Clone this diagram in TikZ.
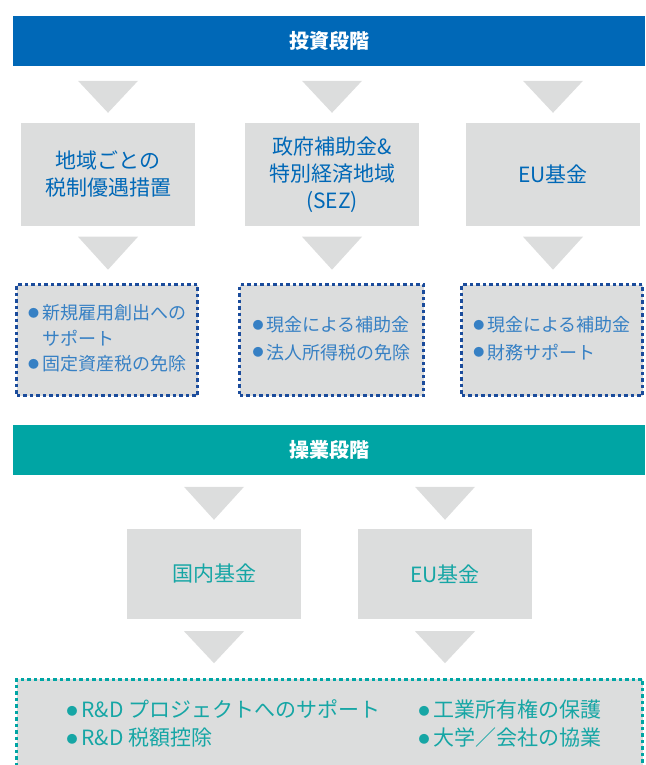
\documentclass[tikz,border=0pt]{standalone}
\usepackage{fontspec}
\setmainfont{Noto Sans CJK JP}
\definecolor{hdrblue}{HTML}{0068B7}
\definecolor{hdrteal}{HTML}{00A5A4}
\definecolor{boxgray}{HTML}{DCDDDD}
\definecolor{txtblue}{HTML}{0068B7}
\definecolor{txtblue2}{HTML}{3680C4}
\definecolor{dotblue}{HTML}{1B4C9C}
\definecolor{txtteal}{HTML}{16A6A5}
\newcommand\bul{{\fontsize{11}{11}\selectfont\raisebox{2.6pt}{●}}}
\begin{document}
\begin{tikzpicture}[x=1pt,y=-1pt,
  hdr/.style={minimum width=632pt,minimum height=50pt,inner sep=0pt,text=white,font=\fontsize{20}{24}\selectfont\bfseries},
  gbox/.style={fill=boxgray,minimum width=174pt,inner sep=0pt,align=center,font=\fontsize{21}{27}\selectfont},
  dbox/.style={fill=boxgray,line width=3.5pt,dash pattern=on 3.5pt off 3pt,inner sep=0pt},
  tri/.style={fill=boxgray},
  btxt/.style={inner sep=0pt,align=left}
]
\useasboundingbox (0,0) rectangle (645,765);
\clip (0,0) rectangle (645,765);

% ---- investment stage ----
\node[hdr,fill=hdrblue] (h1) at (329,41) {投資段階};

\node[gbox,text=txtblue,minimum height=103pt] (b1) at (108,174.5) {地域ごとの\\税制優遇措置};
\node[gbox,text=txtblue,minimum height=103pt] (b2) at (332,174.5) {政府補助金\&\\特別経済地域\\(SEZ)};
\node[gbox,text=txtblue,minimum height=103pt] (b3) at (553,174.5) {EU基金};

\foreach \n in {b1,b2,b3}{
  \fill[tri] (\n.north) ++(-30,-42) -- ++(60,0) -- ++(-30,32) -- cycle;
  \fill[tri] (\n.south) ++(-30,10.5) -- ++(60,0) -- ++(-30,33) -- cycle;
}

\node[dbox,draw=dotblue,minimum width=181pt,minimum height=111pt] (d1) at (107,340) {};
\node[dbox,draw=dotblue,minimum width=184pt,minimum height=111pt] (d2) at (331.5,340) {};
\node[dbox,draw=dotblue,minimum width=181pt,minimum height=111pt] (d3) at (552,340) {};

\node[btxt,text=txtblue2,font=\fontsize{18}{25.5}\selectfont] (t1) at (d1.center) {%
  \begin{tabular}{@{}l@{\hspace{3pt}}l@{}}\bul&新規雇用創出への\\ &サポート\\ \bul&固定資産税の免除\end{tabular}};
\node[btxt,text=txtblue2,font=\fontsize{18}{27.5}\selectfont] (t2) at (d2.center) {%
  \begin{tabular}{@{}l@{\hspace{3pt}}l@{}}\bul&現金による補助金\\ \bul&法人所得税の免除\end{tabular}};
\node[btxt,text=txtblue2,font=\fontsize{18}{27.5}\selectfont] (t3) at (d3.center) {%
  \begin{tabular}{@{}l@{\hspace{3pt}}l@{}}\bul&現金による補助金\\ \bul&財務サポート\end{tabular}};

% ---- operation stage ----
\node[hdr,fill=hdrteal] (h2) at (329,449.5) {操業段階};

\node[gbox,text=txtteal,minimum height=90pt] (c1) at (214,574) {国内基金};
\node[gbox,text=txtteal,minimum height=90pt] (c2) at (445,574) {EU基金};

\foreach \n in {c1,c2}{
  \fill[tri] (\n.north) ++(-30,-42) -- ++(60,0) -- ++(-30,33) -- cycle;
  \fill[tri] (\n.south) ++(-30,12) -- ++(60,0) -- ++(-30,32) -- cycle;
}

\node[dbox,draw=hdrteal,minimum width=626pt,minimum height=140pt,anchor=north] (e1) at (329.5,677.5) {};
\node[btxt,text=txtteal,font=\fontsize{21}{28}\selectfont] (u1) at (223.5,726) {%
  \begin{tabular}{@{}l@{\hspace{4pt}}l@{}}\bul&R\&D プロジェクトへのサポート\\ \bul&R\&D 税額控除\end{tabular}};
\node[btxt,text=txtteal,font=\fontsize{21}{28}\selectfont] (u2) at (510,726) {%
  \begin{tabular}{@{}l@{\hspace{4pt}}l@{}}\bul&工業所有権の保護\\ \bul&大学／会社の協業\end{tabular}};
\end{tikzpicture}
\end{document}
